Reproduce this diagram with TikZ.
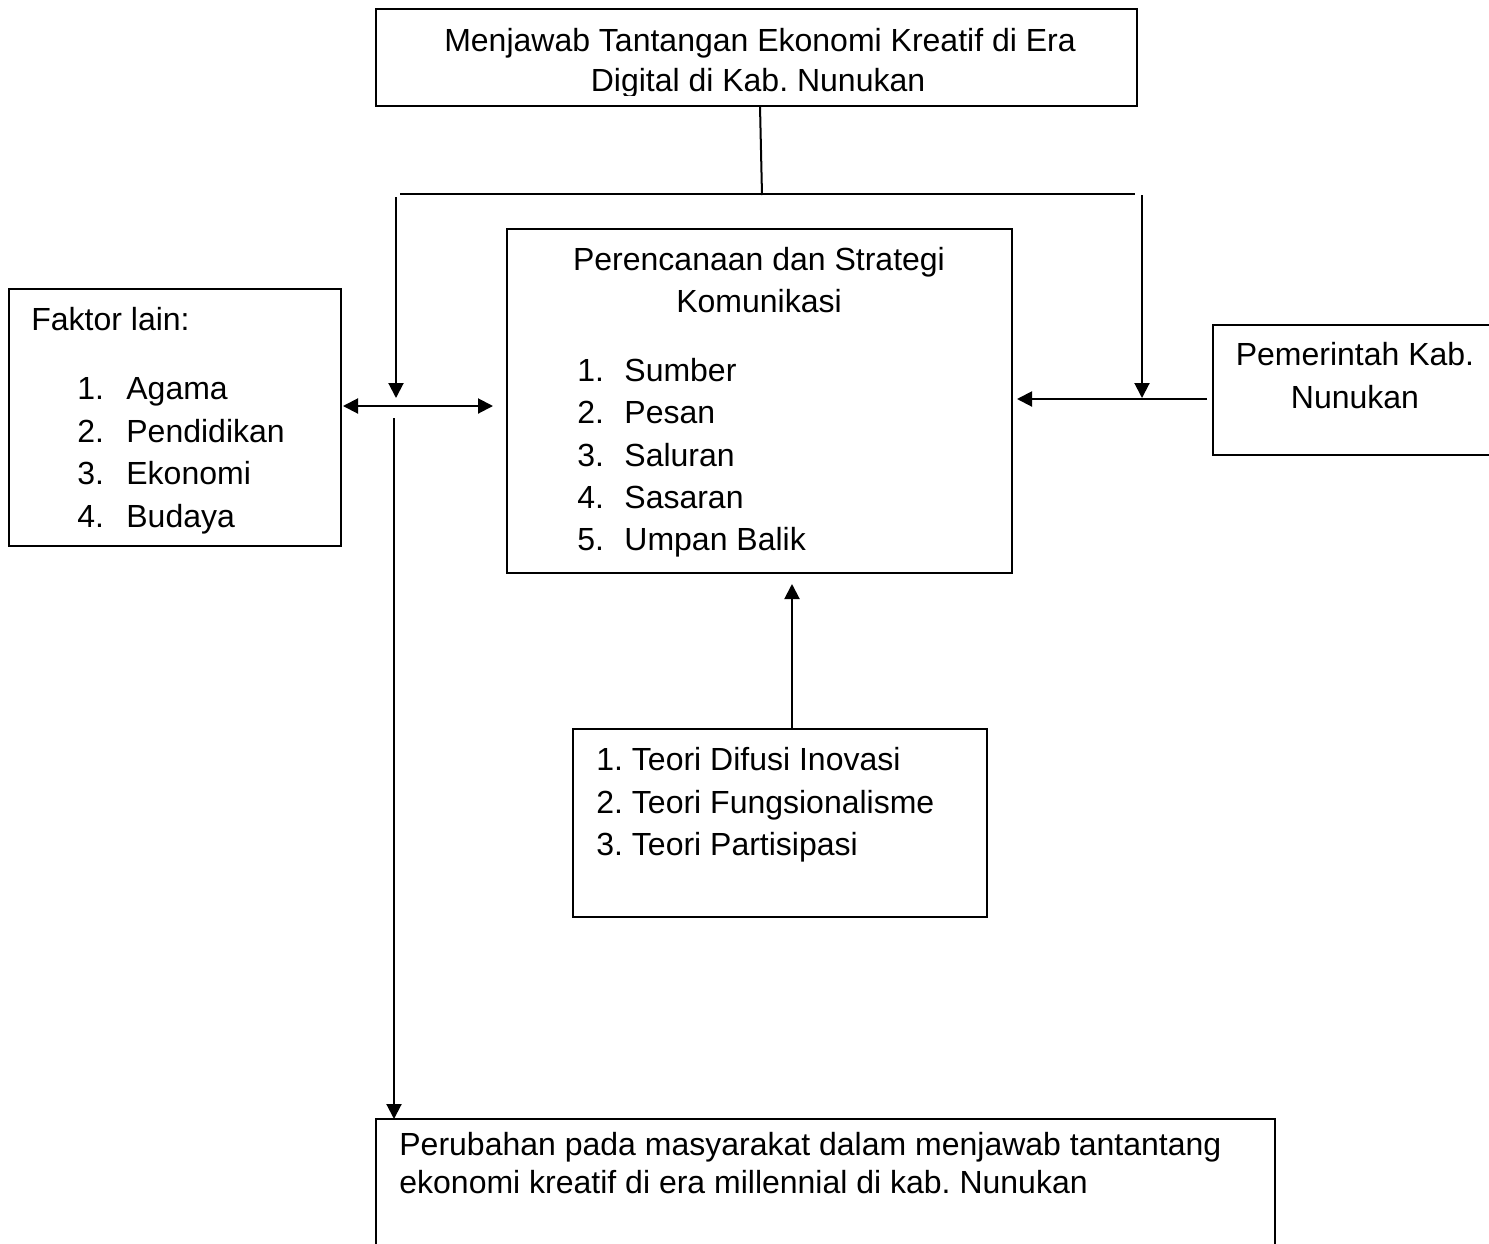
\documentclass[tikz,border=0pt]{standalone}
\usepackage{fontspec}
\setmainfont{Liberation Sans}
\usetikzlibrary{arrows.meta}
\frenchspacing
\tikzset{
  box/.style={draw, line width=1pt, rectangle, inner sep=0pt},
  txt/.style={inner sep=0pt, font=\fontsize{16pt}{21pt}\selectfont},
  lw/.style={anchor=base west, txt},
  lc/.style={anchor=base, txt},
  conn/.style={line width=1pt},
  arr/.style={line width=1pt, -{Triangle[length=7.5pt,width=7.5pt]}},
  darr/.style={line width=1pt, {Triangle[length=7.5pt,width=7.5pt]}-{Triangle[length=7.5pt,width=7.5pt]}},
}
\begin{document}
\begin{tikzpicture}[x=0.5pt,y=-0.5pt]
\frenchspacing
\clip (0,0) rectangle (1489,1243);
\fill[white] (0,0) rectangle (1489,1243);

% boxes
\node[box, minimum width=380.5pt, minimum height=48.5pt] (top) at (756.5,57.5) {};
\node[box, minimum width=252.5pt, minimum height=172pt] (mid) at (759.5,401) {};
\node[box, minimum width=166pt, minimum height=128.5pt] (left) at (175,417.5) {};
\node[box, minimum width=141pt, minimum height=65pt] (right) at (1354,390) {};
\node[box, minimum width=207pt, minimum height=94pt] (teori) at (780,823) {};
\node[box, minimum width=449.5pt, minimum height=70.5pt] (bottom) at (825.5,1189.5) {};

% top box text
\node[lc] (t1) at (760,51) {Menjawab Tantangan Ekonomi Kreatif di Era};
\begin{scope}
\clip (380,60) rectangle (1130,95);
\node[lc] (t2) at (758,91) {Digital di Kab. Nunukan};
\end{scope}

% middle box text
\node[lc] (m0) at (759,270) {Perencanaan dan Strategi};
\node[lc] (m00) at (759,312) {Komunikasi};
\node[lw] (mn1) at (577,381) {1.};
\node[lw] (mt1) at (624,381) {Sumber};
\node[lw] (mn2) at (577,423) {2.};
\node[lw] (mt2) at (624,423) {Pesan};
\node[lw] (mn3) at (577,466) {3.};
\node[lw] (mt3) at (624,466) {Saluran};
\node[lw] (mn4) at (577,508) {4.};
\node[lw] (mt4) at (624,508) {Sasaran};
\node[lw] (mn5) at (577,550) {5.};
\node[lw] (mt5) at (624,550) {Umpan Balik};

% left box text
\node[lw] (l0) at (31,330) {Faktor lain:};
\node[lw] (ln1) at (77,399) {1.};
\node[lw] (lt1) at (126,399) {Agama};
\node[lw] (ln2) at (77,442) {2.};
\node[lw] (lt2) at (126,442) {Pendidikan};
\node[lw] (ln3) at (77,484) {3.};
\node[lw] (lt3) at (126,484) {Ekonomi};
\node[lw] (ln4) at (77,527) {4.};
\node[lw] (lt4) at (126,527) {Budaya};

% right box text
\node[lc] (r1) at (1355,365) {Pemerintah Kab.};
\node[lc] (r2) at (1355,408) {Nunukan};

% teori box text
\node[lw] (e1) at (596,770) {1. Teori Difusi Inovasi};
\node[lw] (e2) at (596,813) {2. Teori Fungsionalisme};
\node[lw] (e3) at (596,855) {3. Teori Partisipasi};

% bottom box text
\node[lw] (b1) at (399,1155) {Perubahan pada masyarakat dalam menjawab tantantang};
\node[lw] (b2) at (399,1193) {ekonomi kreatif di era millennial di kab. Nunukan};

% connector coordinates
\coordinate (topdown) at (760,106);
\coordinate (hub) at (762,195);
\coordinate (hl) at (400,194);
\coordinate (hr) at (1135,194);
\coordinate (vl) at (396,197);
\coordinate (vlend) at (396,398);
\coordinate (vr) at (1142,195);
\coordinate (vrend) at (1142,398);
\coordinate (dl) at (343,406);
\coordinate (dr) at (493,406);
\coordinate (vd) at (394,418);
\coordinate (vdend) at (394,1119);
\coordinate (rs) at (1207,399);
\coordinate (re) at (1017,399);
\coordinate (us) at (792,729);
\coordinate (ue) at (792,584);

\draw[conn] (topdown) -- (hub);
\draw[conn] (hl) -- (hub |- hl) -- (hr);
\draw[arr] (vl) -- (vlend);
\draw[arr] (vr) -- (vrend);
\draw[darr] (dl) -- (dr);
\draw[arr] (vd) -- (vdend);
\draw[arr] (rs) -- (re);
\draw[arr] (us) -- (ue);
\end{tikzpicture}
\end{document}
